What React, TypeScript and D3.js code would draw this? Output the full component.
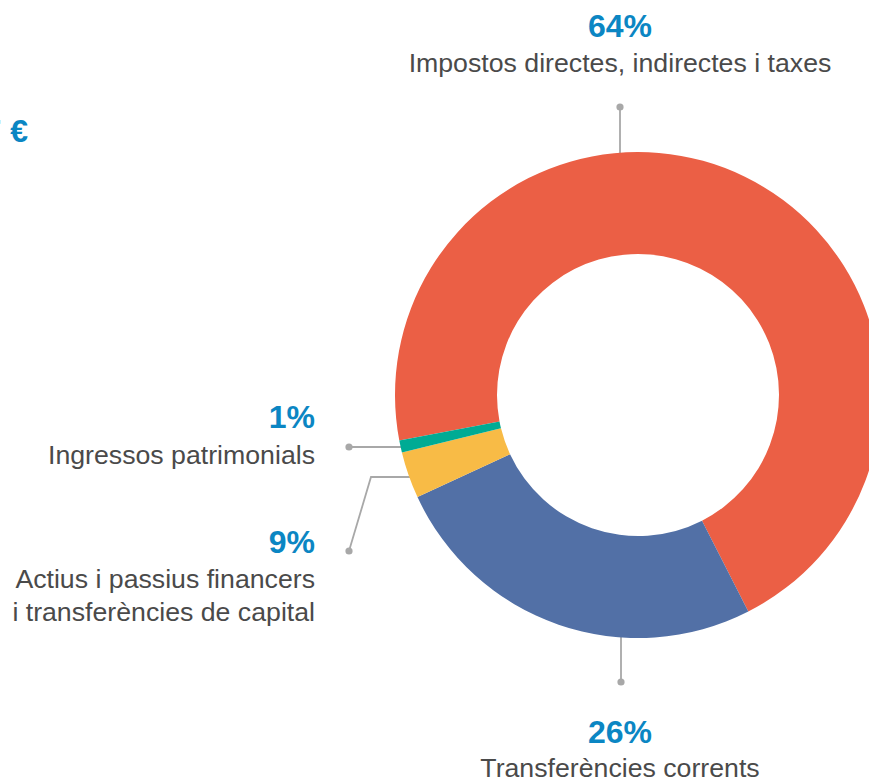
import React from "react";
import * as d3 from "d3";

// Slice categories (drawing order, clockwise from the red slice)
const categories = [
  "Impostos directes, indirectes i taxes",
  "Transferències corrents",
  "Actius i passius financers i transferències de capital",
  "Ingressos patrimonials",
];
// Percentages printed in the labels
const labelPercents = [64, 26, 9, 1];
// Slice sizes as drawn in the picture (share of the ring)
const sliceValues = [70.5, 25.6, 3.1, 0.8];
const sliceColors = ["#EB5F45", "#5270A6", "#F8BB46", "#00AB94"];
// Label text lines
const labelLines = [
  ["Impostos directes, indirectes i taxes"],
  ["Transferències corrents"],
  ["Actius i passius financers", "i transferències de capital"],
  ["Ingressos patrimonials"],
];
const totalText = "7 €";

const W = 869;
const H = 782;
const FONT = "'Liberation Sans', Arial, Helvetica, sans-serif";
const BLUE = "#0B86C3";
const GREY_TEXT = "#4A4A4A";
const LINE = "#A8A8A8";
const PCT_SIZE = 32;
const LBL_SIZE = 26.7;

export default function App() {
  const cx = 638;
  const cy = 395;
  const rOuter = 243;
  const rInner = 141;
  const start = (-100.8 * Math.PI) / 180;

  const pie = d3
    .pie<number>()
    .sort(null)
    .value((d) => d)
    .startAngle(start)
    .endAngle(start + 2 * Math.PI);
  const arcs = pie(sliceValues);
  const arc = d3.arc<d3.PieArcDatum<number>>().innerRadius(rInner).outerRadius(rOuter);

  return (
    <div style={{ position: "absolute", left: 0, top: 0 }}>
      <svg width={W} height={H} style={{ display: "block" }} fontFamily={FONT}>
        <rect x={0} y={0} width={W} height={H} fill="#fff" />
        {/* total (cut off at left edge, as in the reference) */}
        <text x={28} y={142} textAnchor="end" fontSize={32} fontWeight="bold" fill={BLUE}>
          {totalText}
        </text>

        {/* leader lines */}
        <g stroke={LINE} strokeWidth={1.8} fill="none">
          <line x1={620} y1={107} x2={620} y2={165} />
          <line x1={621} y1={625} x2={621} y2={682} />
          <line x1={349} y1={447} x2={410} y2={447} />
          <polyline points="349,551 371,477 420,477" />
        </g>
        <g fill={LINE}>
          <circle cx={620} cy={107} r={3.6} />
          <circle cx={621} cy={682} r={3.6} />
          <circle cx={349} cy={447} r={3.6} />
          <circle cx={349} cy={551} r={3.6} />
        </g>

        {/* donut */}
        <g transform={`translate(${cx},${cy})`}>
          {arcs.map((a, i) => (
            <path key={categories[i]} d={arc(a) || ""} fill={sliceColors[i]} />
          ))}
        </g>

        {/* top label */}
        <text x={620} y={37} textAnchor="middle" fontSize={PCT_SIZE} fontWeight="bold" fill={BLUE}>
          {labelPercents[0]}%
        </text>
        <text x={620} y={72} textAnchor="middle" fontSize={LBL_SIZE} fill={GREY_TEXT}>
          {labelLines[0][0]}
        </text>

        {/* bottom label */}
        <text x={620} y={743} textAnchor="middle" fontSize={PCT_SIZE} fontWeight="bold" fill={BLUE}>
          {labelPercents[1]}%
        </text>
        <text x={620} y={777} textAnchor="middle" fontSize={LBL_SIZE} fill={GREY_TEXT}>
          {labelLines[1][0]}
        </text>

        {/* left labels */}
        <text x={315} y={428} textAnchor="end" fontSize={PCT_SIZE} fontWeight="bold" fill={BLUE}>
          {labelPercents[3]}%
        </text>
        <text x={315} y={464} textAnchor="end" fontSize={LBL_SIZE} fill={GREY_TEXT}>
          {labelLines[3][0]}
        </text>

        <text x={315} y={553} textAnchor="end" fontSize={PCT_SIZE} fontWeight="bold" fill={BLUE}>
          {labelPercents[2]}%
        </text>
        <text x={315} y={588} textAnchor="end" fontSize={LBL_SIZE} fill={GREY_TEXT}>
          {labelLines[2][0]}
        </text>
        <text x={315} y={621} textAnchor="end" fontSize={LBL_SIZE} fill={GREY_TEXT}>
          {labelLines[2][1]}
        </text>
      </svg>
    </div>
  );
}
